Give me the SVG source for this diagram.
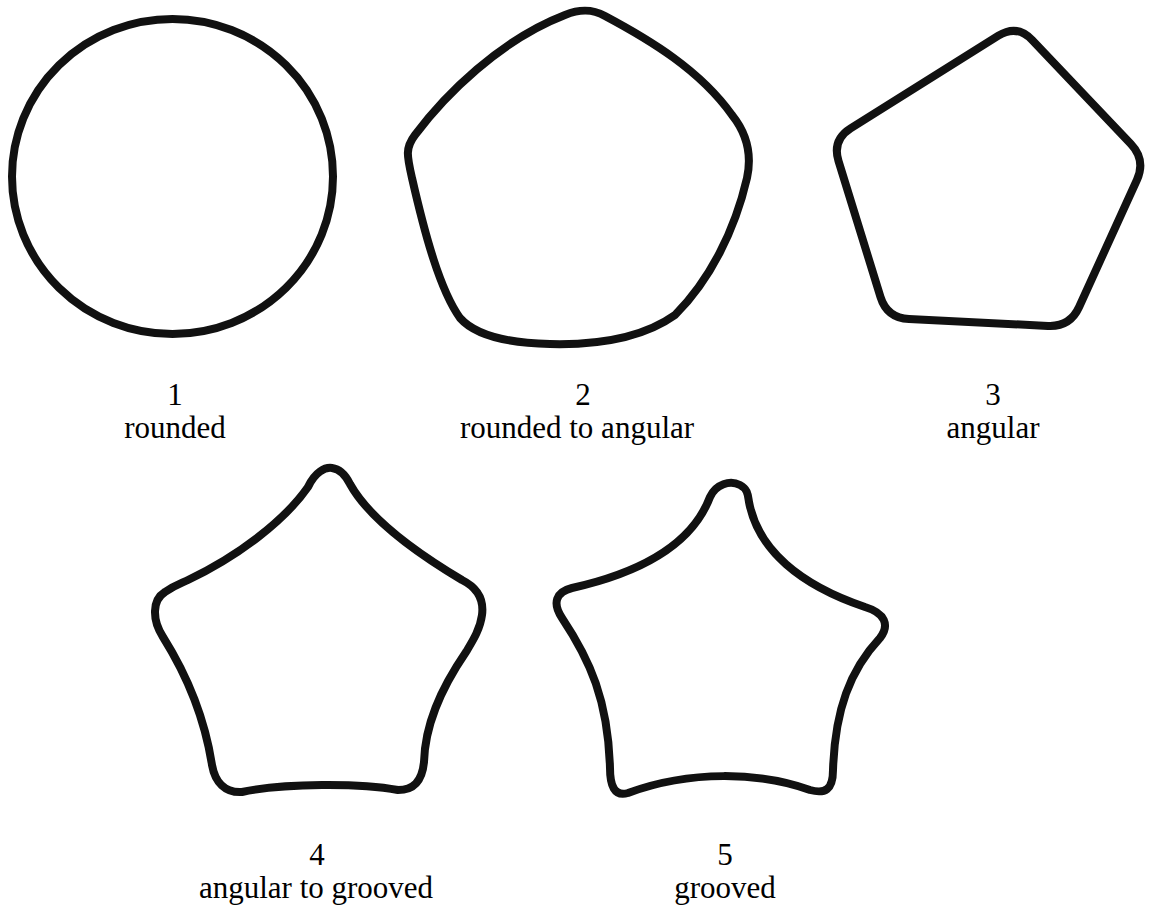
<svg xmlns="http://www.w3.org/2000/svg" width="1155" height="912" viewBox="0 0 1155 912">
<style>
.shape{fill:none;stroke:#111;stroke-width:8;stroke-linejoin:round;stroke-linecap:round}
.lbl{font-family:'Liberation Serif','DejaVu Serif','Times New Roman',serif;font-size:31px;fill:#000;text-anchor:middle}
</style>
<rect width="1155" height="912" fill="#fff"/>
<g id="shape1">
<ellipse class="shape" cx="172.5" cy="176.5" rx="160.5" ry="157.5"/>
<text class="lbl" x="175" y="405">1</text>
<text class="lbl" x="175" y="438">rounded</text>
</g>
<g id="shape2">
<path class="shape" d="M 412,178 C 407,156 405,148 415,135 C 445,95 500,40 565,15 C 580,9 592,9 605,16 C 650,40 700,70 732,115 C 748,135 752,155 747,178 C 735,230 710,280 675,315 C 640,340 590,345 550,344 C 505,343 475,335 460,318 C 440,290 425,235 412,178 Z"/>
<text class="lbl" x="583" y="405">2</text>
<text class="lbl" x="577" y="438">rounded to angular</text>
</g>
<g id="shape3">
<path class="shape" d="M 850.6,128.3 L 998.4,35.7 Q 1017,24 1032.1,40 L 1130.9,144 Q 1146,160 1136.9,180 L 1079.1,307 Q 1070,327 1048,325.9 L 909,319.1 Q 887,318 880.5,297 L 838.5,161 Q 832,140 850.6,128.3 Z"/>
<text class="lbl" x="993" y="405">3</text>
<text class="lbl" x="993" y="438">angular</text>
</g>
<g id="shape4">
<path class="shape" d="M 308,487 C 315,472 325,467 332,468 C 340,469 346,476 350,484 C 370,520 420,555 462,580 C 478,588 484,600 482,615 C 480,630 472,642 466,652 C 440,690 425,725 424,762 C 422,782 413,790 398,790 C 360,783 285,783 242,792 C 225,793 215,782 212,765 C 205,720 190,680 163,637 C 152,620 152,600 165,592 C 175,585 182,583 188,580 C 240,555 285,520 308,487 Z"/>
<text class="lbl" x="317" y="865">4</text>
<text class="lbl" x="316" y="898">angular to grooved</text>
</g>
<g id="shape5">
<path class="shape" d="M 710,497 C 716,484 730,480 740,485 C 748,489 748,496 749,502 C 758,550 800,585 865,607 C 885,613 890,625 880,638 C 850,670 835,710 833,770 C 833,790 825,794 810,790 C 760,772 690,770 628,793 C 614,797 610,785 610,768 C 608,700 590,660 562,618 C 552,603 556,592 572,588 C 630,575 690,550 710,497 Z"/>
<text class="lbl" x="725" y="865">5</text>
<text class="lbl" x="725" y="898">grooved</text>
</g>
<g id="connectors"></g>
</svg>
